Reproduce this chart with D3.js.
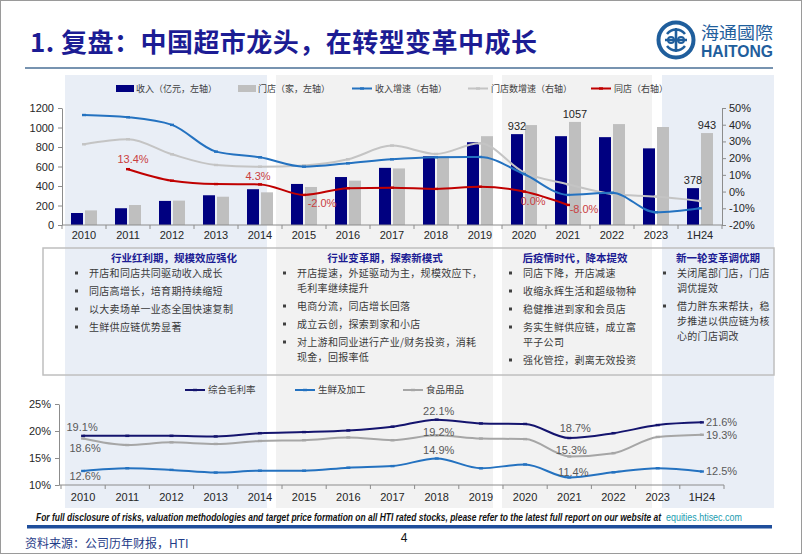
<!DOCTYPE html>
<html><head><meta charset="utf-8">
<script src="https://cdn.jsdelivr.net/npm/d3@7"></script>
<style>body{margin:0;background:#fff}svg{display:block}</style>
</head><body><svg id="c" width="802" height="554"></svg>
<script>
// ---------------- DATA ----------------
const categories = ["2010","2011","2012","2013","2014","2015","2016","2017","2018","2019","2020","2021","2022","2023","1H24"];
const revenue = [123,172,247,305,367,421,492,586,705,849,932,911,901,786,378];          // 亿元
const stores = [150,205,250,290,335,390,455,580,705,911,1025,1057,1035,1005,943];      // 家
const revenueGrowth = [45.8,44.5,39.9,23.9,20.5,14.9,16.9,19.3,20.5,20.7,10.5,-2.0,-0.7,-12.4,-10.0];
const storeGrowth = [28.3,31.3,22.3,15.9,14.9,15.6,19.3,27.5,22.5,28.9,11.5,4.4,-1.4,-3.0,-5.6];
const sameStore = [null,13.4,6.5,4.5,4.3,-2.0,2.0,2.3,1.6,2.9,0.0,-8.0,null,null,null];
const leftTicks = [0,200,400,600,800,1000,1200];
const rightTicks = [-20,-10,0,10,20,30,40,50];
const topLegend = ["收入（亿元，左轴）","门店（家，左轴）","收入增速（右轴）","门店数增速（右轴）","同店（右轴）"];

const grossMargin = [19.1,19.1,19.1,19.0,19.6,19.8,20.1,20.8,22.1,21.4,21.3,18.7,19.6,21.1,21.6];
const freshMargin = [12.6,13.1,12.8,12.3,12.65,12.65,13.2,13.5,14.9,13.1,13.8,11.4,12.35,13.1,12.5];
const foodMargin  = [18.6,17.4,17.9,17.6,18.15,18.3,18.8,18.3,19.2,18.6,18.5,15.3,15.9,18.9,19.3];
const marginTicks = [10,15,20,25];
const bottomLegend = ["综合毛利率","生鲜及加工","食品用品"];

const phaseTitles = ["行业红利期，规模效应强化","行业变革期，探索新模式","后疫情时代，降本提效","新一轮变革调优期"];
const phaseBullets = [
  [["开店和同店共同驱动收入成长"],["同店高增长，培育期持续缩短"],["以大卖场单一业态全国快速复制"],["生鲜供应链优势显著"]],
  [["开店提速，外延驱动为主，规模效应下，","毛利率继续提升"],["电商分流，同店增长回落"],["成立云创，探索到家和小店"],["对上游和同业进行产业/财务投资，消耗","现金，回报率低"]],
  [["同店下降，开店减速"],["收缩永辉生活和超级物种"],["稳健推进到家和会员店"],["务实生鲜供应链，成立富","平子公司"],["强化管控，剥离无效投资"]],
  [["关闭尾部门店，门店","调优提效"],["借力胖东来帮扶，稳","步推进以供应链为核","心的门店调改"]]
];
const titleText = "1. 复盘：中国超市龙头，在转型变革中成长";
const disclaimer = "For full disclosure of risks, valuation methodologies and target price formation on all HTI rated stocks, please refer to the latest full report on our website at";
const disclaimerLink = "equities.htisec.com";
const sourceText = "资料来源：公司历年财报，HTI";

// ---------------- STYLE ----------------
const CJK = "'Noto Sans CJK SC','Noto Sans',sans-serif";
const LAT = "'Liberation Sans',Arial,sans-serif";
const NAVY = "#000080", GREY_BAR = "#BFBFBF", BLUE = "#2472C0", LGREY = "#C4C4C4", RED = "#C00000";
const svg = d3.select("#c");

// slide border
svg.append("rect").attr("x",0.5).attr("y",0.5).attr("width",801).attr("height",553).attr("fill","#fff").attr("stroke","#9a9a9a");

// phase panels (background)
const panels = [[65,267,"#E9EEF6"],[276,493,"#F2F2F2"],[502,652,"#F2F2F2"],[662,774,"#E9EEF6"]];
svg.selectAll("rect.panel").data(panels).join("rect").attr("class","panel")
  .attr("x",d=>d[0]).attr("y",75).attr("width",d=>d[1]-d[0]).attr("height",433).attr("fill",d=>d[2]);

// title
svg.append("text").attr("x",30).attr("y",52).attr("font-family",CJK).attr("font-weight","bold")
  .attr("font-size",26).attr("fill","#1C1C94").attr("textLength",507).attr("lengthAdjust","spacing").text(titleText);
svg.append("line").attr("x1",25).attr("x2",773).attr("y1",68).attr("y2",68).attr("stroke","#4A6F96").attr("stroke-width",1.5);

// logo
const logo = svg.append("g").attr("transform","translate(676,40)");
logo.append("circle").attr("r",17.5).attr("fill","#fff").attr("stroke","#1F5E9C").attr("stroke-width",4);
logo.append("path").attr("d","M-9,-6 C-4,-12 4,-12 9,-6 M-9,6 C-4,12 4,12 9,6 M0,-12 L0,12 M-11,0 L11,0")
  .attr("fill","none").attr("stroke","#1F5E9C").attr("stroke-width",2.6);
logo.append("circle").attr("cx",-5).attr("cy",0).attr("r",3).attr("fill","none").attr("stroke","#1F5E9C").attr("stroke-width",2);
logo.append("circle").attr("cx",5).attr("cy",0).attr("r",3).attr("fill","none").attr("stroke","#1F5E9C").attr("stroke-width",2);
svg.append("text").attr("x",701).attr("y",39).attr("font-family",CJK).attr("font-size",17).attr("fill","#1F5E9C")
  .attr("textLength",72).attr("lengthAdjust","spacingAndGlyphs").text("海通國際");
svg.append("text").attr("x",701).attr("y",57).attr("font-family",LAT).attr("font-weight","bold").attr("font-size",16).attr("fill","#1F5E9C")
  .attr("textLength",72).attr("lengthAdjust","spacingAndGlyphs").text("HAITONG");

// ---------------- TOP CHART ----------------
const x = d3.scaleBand().domain(categories).range([62,722]);
const yL = d3.scaleLinear().domain([0,1200]).range([225,108]);
const yR = d3.scaleLinear().domain([-20,50]).range([225,108]);
const sub = d3.scaleBand().domain(["rev","store"]).range([0,x.bandwidth()]).paddingInner(1/7).paddingOuter(0.643);
const cx = c => x(c) + x.bandwidth()/2;

const topG = svg.append("g");
topG.selectAll("rect.rev").data(revenue).join("rect").attr("class","rev")
  .attr("x",(d,i)=>x(categories[i])+sub("rev")).attr("width",sub.bandwidth())
  .attr("y",d=>yL(d)).attr("height",d=>yL(0)-yL(d)).attr("fill",NAVY);
topG.selectAll("rect.store").data(stores).join("rect").attr("class","store")
  .attr("x",(d,i)=>x(categories[i])+sub("store")).attr("width",sub.bandwidth())
  .attr("y",d=>yL(d)).attr("height",d=>yL(0)-yL(d)).attr("fill",GREY_BAR);

// axes
const axisStyle = g => { g.selectAll("path,line").attr("stroke","#8C8C8C"); g.selectAll("text").attr("font-family",LAT).attr("font-size",11).attr("fill","#262626"); };
topG.append("g").attr("transform","translate(62,0)")
  .call(d3.axisLeft(yL).tickValues(leftTicks).tickFormat(d3.format("d")).tickSize(4).tickPadding(4).tickSizeOuter(0)).call(axisStyle);
topG.append("g").attr("transform","translate(722,0)")
  .call(d3.axisRight(yR).tickValues(rightTicks).tickFormat(d=>d+"%").tickSize(4).tickPadding(3).tickSizeOuter(0)).call(axisStyle);
// x axis
const xAxisTop = topG.append("g");
xAxisTop.append("line").attr("x1",62).attr("x2",722).attr("y1",225).attr("y2",225).attr("stroke","#8C8C8C");
xAxisTop.selectAll("line.t").data(d3.range(categories.length+1)).join("line").attr("class","t")
  .attr("x1",i=>62+i*x.step()).attr("x2",i=>62+i*x.step()).attr("y1",225).attr("y2",229).attr("stroke","#8C8C8C");
xAxisTop.selectAll("text").data(categories).join("text").attr("x",d=>cx(d)).attr("y",239).attr("text-anchor","middle")
  .attr("font-family",LAT).attr("font-size",11).attr("fill","#262626").text(d=>d);

// lines
const curve = d3.curveMonotoneX;
function drawLine(g, vals, y, color, w){
  const pts = vals.map((v,i)=>[cx(categories[i]), v]).filter(p=>p[1]!==null);
  g.append("path").datum(pts).attr("fill","none").attr("stroke",color).attr("stroke-width",w)
    .attr("d",d3.line().x(p=>p[0]).y(p=>y(p[1])).curve(curve));
  g.selectAll(null).data(pts).join("rect").attr("x",p=>p[0]-2).attr("y",p=>y(p[1])-1.2).attr("width",4).attr("height",2.4).attr("fill",color);
}
drawLine(topG, storeGrowth, yR, LGREY, 2);
drawLine(topG, revenueGrowth, yR, BLUE, 2);
drawLine(topG, sameStore, yR, RED, 2);

// same-store labels
const ssOff = {1:[5,-10],4:[-2,-8],5:[18,8],10:[9,10],11:[16,4]};
Object.keys(ssOff).forEach(k=>{
  const i=+k, o=ssOff[k];
  topG.append("text").attr("x",cx(categories[i])+o[0]).attr("y",yR(sameStore[i])+o[1]).attr("dy","0.35em")
    .attr("text-anchor","middle").attr("font-family",LAT).attr("font-size",11).attr("fill","#C9403F")
    .text(sameStore[i].toFixed(1)+"%");
});
// bar labels
[[10,"rev"],[11,"store"],[14,"store"],[14,"rev"]].forEach(([i,s])=>{
  const v = s==="rev"?revenue[i]:stores[i];
  topG.append("text").attr("x",x(categories[i])+sub(s)+sub.bandwidth()/2).attr("y",yL(v)-4)
    .attr("text-anchor","middle").attr("font-family",LAT).attr("font-size",11).attr("fill","#262626").text(v);
});

// top legend
const tl = svg.append("g").attr("font-family",CJK).attr("font-size",9).attr("fill","#404040");
const legX = [116,238,352,468,591];
const legKinds = [["rect",NAVY],["rect",GREY_BAR],["line",BLUE],["line",LGREY],["line",RED]];
topLegend.forEach((t,i)=>{
  const [k,c]=legKinds[i];
  if(k==="rect") tl.append("rect").attr("x",legX[i]).attr("y",85).attr("width",18).attr("height",7).attr("fill",c);
  else { tl.append("line").attr("x1",legX[i]).attr("x2",legX[i]+20).attr("y1",88.5).attr("y2",88.5).attr("stroke",c).attr("stroke-width",2);
         tl.append("rect").attr("x",legX[i]+8).attr("y",87.3).attr("width",4).attr("height",2.4).attr("fill",c); }
  tl.append("text").attr("x",legX[i]+(k==="rect"?20:23)).attr("y",88.5).attr("dy","0.35em").text(t);
});

// ---------------- TEXT BOXES ----------------
svg.append("rect").attr("x",43).attr("y",248).attr("width",731).attr("height",127).attr("fill","none")
  .attr("stroke","#BFBFBF").attr("stroke-width",1.5);
const headX = [174,385,575,718];
const bulletX = [75,283,509,663];
phaseTitles.forEach((t,i)=>{
  svg.append("text").attr("x",headX[i]).attr("y",258).attr("dy","0.35em").attr("text-anchor","middle")
    .attr("font-family",CJK).attr("font-weight","bold").attr("font-size",10.5).attr("fill","#1C1C94").text(t);
  let y = 273;
  phaseBullets[i].forEach(lines=>{
    svg.append("rect").attr("x",bulletX[i]).attr("y",y-1.5).attr("width",3).attr("height",3).attr("fill","#404040");
    lines.forEach((ln,j)=>{
      svg.append("text").attr("x",bulletX[i]+14).attr("y",y).attr("dy","0.35em").attr("font-family",CJK)
        .attr("font-size",10).attr("letter-spacing",0.3).attr("fill","#3A3A3A").text(ln);
      y += (j<lines.length-1)?15:0;
    });
    y += 18;
  });
});

// ---------------- BOTTOM CHART ----------------
const xb = d3.scaleBand().domain(categories).range([61,724]);
const yb = d3.scaleLinear().domain([10,25]).range([485,404]);
const cxb = c => xb(c)+xb.bandwidth()/2;
const bot = svg.append("g");
bot.append("g").attr("transform","translate(59,0)")
  .call(d3.axisLeft(yb).tickValues(marginTicks).tickFormat(d=>d+"%").tickSize(4).tickPadding(4).tickSizeOuter(0)).call(axisStyle);
bot.append("line").attr("x1",59).attr("x2",724).attr("y1",485).attr("y2",485).attr("stroke","#8C8C8C");
bot.selectAll("line.t").data(d3.range(categories.length+1)).join("line").attr("class","t")
  .attr("x1",i=>61+i*xb.step()).attr("x2",i=>61+i*xb.step()).attr("y1",485).attr("y2",489).attr("stroke","#8C8C8C");
bot.selectAll("text.xl").data(categories).join("text").attr("class","xl").attr("x",d=>cxb(d)).attr("y",501).attr("text-anchor","middle")
  .attr("font-family",LAT).attr("font-size",11).attr("fill","#262626").text(d=>d);

function drawLineB(vals,color){
  const pts = vals.map((v,i)=>[cxb(categories[i]),v]);
  bot.append("path").datum(pts).attr("fill","none").attr("stroke",color).attr("stroke-width",2)
    .attr("d",d3.line().x(p=>p[0]).y(p=>yb(p[1])).curve(curve));
  bot.selectAll(null).data(pts).join("rect").attr("x",p=>p[0]-2).attr("y",p=>yb(p[1])-1.2).attr("width",4).attr("height",2.4).attr("fill",color);
}
const C_GROSS="#14146E", C_FRESH="#2472C0", C_FOOD="#A6A6A6";
drawLineB(foodMargin,C_FOOD);
drawLineB(freshMargin,C_FRESH);
drawLineB(grossMargin,C_GROSS);

const bLabels = [
  [grossMargin,0,-1,-9,"middle"],[foodMargin,0,2,10,"middle"],[freshMargin,0,2,5,"middle"],
  [grossMargin,8,2,-9,"middle"],[foodMargin,8,2,-3,"middle"],[freshMargin,8,2,-8,"middle"],
  [grossMargin,11,6,-10,"middle"],[foodMargin,11,2,-6,"middle"],[freshMargin,11,4,-5,"middle"],
  [grossMargin,14,4,0,"start"],[foodMargin,14,4,0,"start"],[freshMargin,14,4,0,"start"]
];
bLabels.forEach(([arr,i,dx,dy,anc])=>{
  bot.append("text").attr("x",cxb(categories[i])+dx).attr("y",yb(arr[i])+dy).attr("dy","0.35em").attr("text-anchor",anc)
    .attr("font-family",LAT).attr("font-size",11).attr("fill","#595959").text(arr[i].toFixed(1)+"%");
});

// bottom legend
const blX = [185,295,403], blC=[C_GROSS,C_FRESH,C_FOOD];
bottomLegend.forEach((t,i)=>{
  bot.append("line").attr("x1",blX[i]).attr("x2",blX[i]+20).attr("y1",390).attr("y2",390).attr("stroke",blC[i]).attr("stroke-width",2);
  bot.append("rect").attr("x",blX[i]+8).attr("y",388.8).attr("width",4).attr("height",2.4).attr("fill",blC[i]);
  bot.append("text").attr("x",blX[i]+23).attr("y",390).attr("dy","0.35em").attr("font-family",CJK).attr("font-size",9.5).attr("fill","#404040").text(t);
});

// ---------------- FOOTER ----------------
function fitText(x0, y0, w, txt, attrs){
  const g = svg.append("g");
  const t = g.append("text").attr("x",0).attr("y",0).text(txt);
  Object.entries(attrs).forEach(([k,v])=>t.attr(k,v));
  const nat = t.node().getComputedTextLength();
  g.attr("transform",`translate(${x0},${y0}) scale(${w/nat},1)`);
}
fitText(36,521,626,disclaimer,{"font-family":LAT,"font-size":10,"font-weight":"bold","font-style":"italic","fill":"#111"});
fitText(666,521,76,disclaimerLink,{"font-family":LAT,"font-size":10,"fill":"#1A9CB0"});
svg.append("rect").attr("x",27).attr("y",525).attr("width",745).attr("height",3.5).attr("fill","#1F4E9B");
svg.append("text").attr("x",404).attr("y",538).attr("dy","0.35em").attr("text-anchor","middle").attr("font-family",LAT)
  .attr("font-size",12).attr("fill","#111").text("4");
svg.append("text").attr("x",25).attr("y",544).attr("dy","0.35em").attr("font-family",CJK).attr("font-size",12)
  .attr("fill","#1F3C88").text(sourceText);
</script></body></html>
